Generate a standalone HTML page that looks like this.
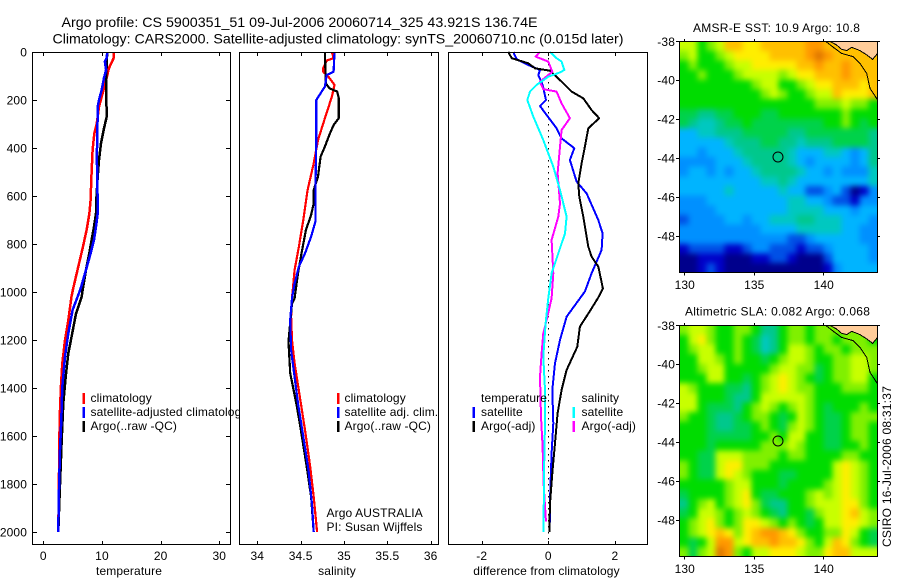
<!DOCTYPE html>
<html>
<head>
<meta charset="utf-8">
<title>Argo profile</title>
<style>
html,body{margin:0;padding:0;background:#fff;}
svg{display:block;font-family:"Liberation Sans",sans-serif;}
text{fill:#000;font-size:12px;letter-spacing:0.12px;}
.t{font-size:14px;letter-spacing:0;}
</style>
</head>
<body>
<svg id="fig" width="900" height="580" viewBox="0 0 900 580" xmlns="http://www.w3.org/2000/svg">
<defs>
<filter id="map-blur" x="-15%" y="-15%" width="130%" height="130%" color-interpolation-filters="sRGB"><feGaussianBlur stdDeviation="3"/></filter>
<clipPath id="clip-map-sst"><rect x="679" y="41" width="198.5" height="231.5"/></clipPath>
<clipPath id="clip-map-sla"><rect x="679" y="325" width="198.5" height="231.5"/></clipPath>
</defs>
<rect x="0" y="0" width="900" height="580" fill="#fff"/>
<text class="t" x="61.5" y="27" textLength="476" lengthAdjust="spacingAndGlyphs">Argo profile: CS 5900351_51 09-Jul-2006 20060714_325 43.921S 136.74E</text>
<text class="t" x="52.5" y="43.5" textLength="571" lengthAdjust="spacingAndGlyphs">Climatology: CARS2000. Satellite-adjusted climatology: synTS_20060710.nc (0.015d later)</text>

<g id="panel-t"></g>
<g>
<rect x="82.5" y="393" width="2.5" height="11" fill="#f00"/>
<text x="90.5" y="402">climatology</text>
<rect x="82.5" y="407" width="2.5" height="11" fill="#00f"/>
<text x="90.5" y="416">satellite-adjusted climatology</text>
<rect x="82.5" y="421" width="2.5" height="11" fill="#000"/>
<text x="90.5" y="430">Argo(..raw -QC)</text>
</g>

<g id="panel-s"></g>
<g>
<rect x="337" y="393" width="2.5" height="11" fill="#f00"/>
<text x="344.5" y="402">climatology</text>
<rect x="337" y="407" width="2.5" height="11" fill="#00f"/>
<text x="344.5" y="416">satellite adj. clim.</text>
<rect x="337" y="421" width="2.5" height="11" fill="#000"/>
<text x="344.5" y="430">Argo(..raw -QC)</text>
<text x="326.5" y="517">Argo AUSTRALIA</text>
<text x="326.5" y="531">PI: Susan Wijffels</text>
</g>

<g id="panel-d"></g>
<g>
<text x="481" y="402">temperature</text>
<rect x="472.5" y="407" width="2.5" height="11" fill="#00f"/>
<text x="481" y="416">satellite</text>
<rect x="472.5" y="421" width="2.5" height="11" fill="#000"/>
<text x="481" y="430">Argo(-adj)</text>
<text x="581.5" y="402">salinity</text>
<rect x="572.5" y="407" width="2.5" height="11" fill="#0ff"/>
<text x="581.5" y="416">satellite</text>
<rect x="572.5" y="421" width="2.5" height="11" fill="#f0f"/>
<text x="581.5" y="430">Argo(-adj)</text>
</g>

<text x="129" y="575" text-anchor="middle">temperature</text>
<text x="337" y="575" text-anchor="middle">salinity</text>
<text x="546.5" y="575" text-anchor="middle">difference from climatology</text>

<g id="map-sst"></g>
<g id="map-sla"></g>
<text x="693" y="32" textLength="167" lengthAdjust="spacing">AMSR-E SST: 10.9 Argo: 10.8</text>
<text x="685" y="315.5" textLength="185" lengthAdjust="spacing">Altimetric SLA: 0.082 Argo: 0.068</text>
<text transform="translate(891,547) rotate(-90)" textLength="161" lengthAdjust="spacing">CSIRO 16-Jul-2006 08:31:37</text>
</svg>

<script>
// ---- tick labels ----
const depthTicks = [0,200,400,600,800,1000,1200,1400,1600,1800,2000];
const tempTicks = [0,10,20,30];
const salTicks = [34,34.5,35,35.5,36];
const diffTicks = [-2,0,2];
const lonTicks = [130,135,140];
const latTicks = [-38,-40,-42,-44,-46,-48];

// ---- temperature panel ----
const tempClimDepth = [0,25,67,116,172,228,300,340,408,520,616,672,740,818,894,985,1019,1117,1200,1297,1394,1492,1617,1755,2000];
const tempClimVal = [12.04,12,11.2,10.7,10.1,9.5,9.1,8.7,8.4,8.2,8.07,7.85,7.4,6.7,5.96,5.1,4.8,4.26,3.7,3.24,3.0,2.85,2.73,2.67,2.55];
const tempArgoDepth = [0,116,270,318,380,450,520,616,672,728,783,839,908,992,1019,1090,1186,1256,1353,1464,1617,1728,1880,2000];
const tempArgoVal = [10.9,10.68,10.8,10.34,9.83,9.49,9.27,9.03,8.98,8.64,8.24,7.84,7.27,6.7,6.54,5.57,4.83,4.26,3.81,3.41,3.13,2.96,2.73,2.55];
const tempSatDepth = [0,25,40,75,108,158,200,228,367,436,505,672,728,783,839,908,985,1012,1075,1172,1270,1394,1533,1658,1769,1880,2000];
const tempSatVal = [10.9,10.8,10.5,10.7,10.34,9.95,9.49,9.27,9.2,9.1,9.2,9.27,8.98,8.64,8.07,7.27,6.37,5.96,5.0,4.26,3.7,3.24,3.07,2.85,2.73,2.62,2.56];

// ---- salinity panel ----
const salClimDepth = [0,26,36,68,82,103,137,186,276,367,464,575,700,811,908,1026,1103,1200,1297,1436,1575,1728,1853,2000];
const salClimVal = [34.86,34.88,34.80,34.76,34.76,34.82,34.89,34.86,34.78,34.70,34.65,34.58,34.53,34.48,34.43,34.40,34.39,34.40,34.43,34.49,34.55,34.61,34.65,34.69];
const salArgoDepth = [0,130,151,165,193,276,304,346,394,436,519,575,631,679,742,839,922,1026,1047,1207,1338,1464,1548,1728,1853,2000];
const salArgoVal = [34.78,34.79,34.83,34.92,34.94,34.94,34.88,34.83,34.78,34.73,34.70,34.65,34.65,34.62,34.56,34.51,34.47,34.43,34.40,34.36,34.38,34.45,34.49,34.57,34.62,34.65];
const salSatDepth = [0,82,96,144,200,367,575,707,769,839,894,964,1026,1117,1242,1325,1464,1603,1742,1880,2000];
const salSatVal = [34.89,34.88,34.80,34.78,34.68,34.68,34.67,34.67,34.62,34.55,34.48,34.43,34.40,34.38,34.39,34.42,34.47,34.53,34.59,34.63,34.65];

// ---- difference panel ----
const diffTempSatDepth = [0,30,54,75,96,137,200,225,272,318,360,401,450,540,589,700,756,825,922,998,1103,1200,1297,1408,1548,1672,1825,2000];
const diffTempSatVal = [-1.05,-0.95,-0.6,-0.25,-0.3,-0.17,-0.07,-0.25,0,0.25,0.4,0.78,0.65,0.85,1.15,1.5,1.63,1.6,1.3,1.1,0.55,0.35,0.2,0.12,0.15,0.1,0.06,0.04];
const diffTempArgoDepth = [0,26,47,68,78,110,165,193,242,276,318,394,464,547,603,686,811,853,894,985,1026,1090,1144,1228,1325,1408,1505,1630,1755,1880,2000];
const diffTempArgoVal = [-1.2,-1.1,-0.6,-0.4,0.05,0.3,0.7,1.05,1.3,1.53,1.2,1.1,1.0,0.9,0.93,1.05,1.2,1.3,1.5,1.64,1.49,1.2,0.95,0.87,0.55,0.4,0.28,0.2,0.12,0.05,0.03];
const diffSalSatDepth = [0,26,40,75,85,103,137,165,200,269,367,478,575,686,756,839,922,1026,1131,1270,1408,1548,1686,1825,2000];
const diffSalSatVal = [0.05,0.25,0.4,0.48,0.35,0,-0.35,-0.55,-0.63,-0.45,-0.15,0.15,0.35,0.55,0.5,0.3,0.1,0,-0.08,-0.15,-0.1,-0.1,-0.12,-0.13,-0.15];
const diffSalArgoDepth = [0,19,40,82,124,155,165,214,276,325,394,505,631,686,783,922,1026,1117,1172,1256,1353,1519,1644,1797,1957];
const diffSalArgoVal = [-0.25,-0.38,0,0.12,-0.25,-0.15,0.25,0.4,0.65,0.4,0.35,0.28,0.35,0.3,0.1,0.15,0.1,-0.05,-0.15,-0.2,-0.25,-0.22,-0.17,-0.14,-0.07];

// ---- maps: colour level per cell, north to south ----
const sstCells = [
[10,10,8,9,10,12,12,11,11,12,12,12,12,12,13,13,12,12,12,12,12,12],
[9,10,8,8,9,10,11,11,11,11,12,12,12,12,13,14,13,12,12,12,12,12],
[8,9,8,8,8,9,10,10,11,11,11,11,11,12,12,13,12,12,13,12,12,12],
[8,8,9,8,8,8,9,10,10,10,10,9,10,11,11,12,12,12,13,12,12,12],
[8,8,8,8,8,8,8,8,9,10,10,8,8,9,10,11,11,12,12,12,11,12],
[8,8,8,8,8,8,8,8,8,9,10,9,8,8,9,10,10,12,11,11,11,12],
[8,8,8,8,8,8,8,8,8,8,8,8,8,8,8,9,9,9,10,9,9,8],
[7,7,6,6,7,7,8,8,8,7,7,8,8,8,8,8,8,8,9,8,8,8],
[7,6,5,5,6,7,7,8,7,7,7,7,7,7,7,7,8,8,9,8,7,8],
[4,4,5,5,6,6,6,7,7,7,7,7,6,6,7,7,7,7,7,7,7,6],
[4,4,4,4,4,5,6,6,6,7,7,6,6,5,6,6,6,7,7,7,7,6],
[4,4,3,4,4,4,5,6,6,6,6,6,5,4,4,4,5,5,4,3,4,6],
[3,3,3,3,4,4,4,5,6,6,6,6,5,4,3,4,4,4,4,3,4,6],
[3,4,4,3,4,3,4,4,5,6,6,6,6,5,4,4,3,4,3,3,3,5],
[4,4,4,4,4,4,4,4,4,5,5,6,5,4,4,4,4,4,4,4,4,5],
[4,4,4,4,4,5,4,4,4,4,4,5,4,4,2,2,3,4,2,0,1,3],
[3,3,3,4,4,4,4,4,4,4,4,4,5,5,4,4,3,2,2,1,3,3],
[3,3,3,3,4,4,4,4,4,4,4,4,5,5,5,5,4,4,4,3,4,4],
[2,3,3,3,3,4,4,3,4,4,5,5,5,6,6,5,5,5,4,4,4,3],
[3,3,3,3,3,3,3,3,3,4,4,4,4,5,5,5,5,5,4,4,3,3],
[3,3,3,3,3,3,3,3,3,3,3,3,2,2,3,4,4,4,4,4,3,3],
[1,2,2,2,2,1,1,2,3,3,2,2,2,1,2,2,3,4,4,4,4,3],
[0,0,1,1,1,0,0,0,1,1,2,2,1,0,0,0,2,4,4,4,4,3],
[0,0,1,2,1,0,0,0,0,0,0,0,0,0,0,0,1,3,4,4,4,4]
];
const slaCells = [
[9,10,10,9,8,8,9,9,8,6,6,8,9,9,8,9,9,9,9,9,9,9],
[8,10,11,9,8,8,9,8,7,5,6,8,9,9,8,9,9,8,9,9,9,8],
[8,9,10,10,8,8,9,8,7,5,6,8,10,10,9,8,9,9,8,9,9,9],
[8,8,10,10,9,8,9,8,8,7,8,9,10,10,9,8,8,9,9,10,10,9],
[8,8,9,10,10,8,8,8,8,8,9,10,10,9,9,7,8,9,9,10,10,9],
[8,8,8,10,10,8,8,7,8,9,10,11,10,9,8,7,8,9,9,10,10,8],
[10,9,8,8,8,7,7,6,8,9,10,11,10,9,9,8,8,8,9,9,9,8],
[10,10,8,8,8,7,6,6,8,10,10,10,10,10,9,8,8,8,8,8,8,8],
[10,10,8,7,7,7,6,8,9,10,9,8,9,10,9,8,7,8,8,8,9,8],
[9,8,8,7,6,6,7,8,9,9,8,7,8,10,9,8,7,7,8,9,9,9],
[8,8,8,7,6,6,7,7,8,9,8,7,9,10,9,8,7,7,8,9,9,8],
[8,8,8,7,7,7,7,7,8,8,9,8,10,10,8,8,7,7,8,9,9,8],
[8,8,8,7,8,8,8,8,8,9,9,9,10,9,8,8,7,7,8,8,9,8],
[8,8,7,7,10,10,10,9,9,9,9,8,9,9,8,8,8,8,9,9,8,8],
[9,8,7,7,10,11,11,9,9,9,8,8,8,8,8,8,8,10,11,10,9,8],
[9,8,7,7,10,11,10,9,8,8,8,7,7,8,8,8,8,10,11,10,9,8],
[8,8,8,8,8,9,10,10,8,8,8,7,8,8,8,8,9,10,11,10,9,8],
[7,8,8,8,8,9,10,11,8,7,7,8,8,8,9,10,9,10,11,10,9,8],
[6,8,9,10,8,9,10,11,9,7,6,6,8,8,9,10,10,10,11,11,9,8],
[7,8,10,10,9,8,9,10,9,8,7,6,8,8,7,9,10,10,11,12,10,9],
[8,9,10,11,9,8,9,11,11,10,9,8,9,8,7,8,10,10,11,11,10,9],
[8,9,10,11,12,11,9,11,12,13,13,12,11,9,8,8,9,9,11,10,8,7],
[8,7,8,10,13,13,10,11,12,12,13,12,12,11,9,8,10,12,11,9,8,7],
[9,7,9,10,14,13,9,8,10,10,11,11,11,10,9,9,11,12,12,10,10,10]
];
const levelColors = ["#00008c","#0000c8","#0050e6","#0090ff","#00b4ff","#00c8c0","#00c88c","#00d24a","#00dc00","#80f000","#c8ff00","#ffee00","#ffc000","#ff9800","#e07800"];
const coastLon = [140.17,140.72,141.32,142.16,142.64,143.12,143.36,143.88];
const coastLat = [-38,-38.31,-38.62,-38.79,-39.13,-39.65,-40.42,-40.98];
const landLon = [140.48,140.96,141.32,141.68,142.04,142.64,143.12,143.55,143.88];
const landLat = [-38,-38.19,-38.41,-38.48,-38.31,-38.48,-38.70,-38.93,-38.65];
const profileLon = 136.74;
const profileLat = -43.921;

const NS = "http://www.w3.org/2000/svg";
function mk(parent, tag, attrs){
  const e = document.createElementNS(NS, tag);
  for (const k in attrs) e.setAttribute(k, attrs[k]);
  parent.appendChild(e);
  return e;
}
function linear(d0, r0, d1, r1){ return v => r0 + (v - d0) * (r1 - r0) / (d1 - d0); }

const TOP = 52, BOTTOM = 545;
const depthY = linear(0, 52, 2000, 532);

function drawPanel(id, left, right, xScale, xTicks, showDepth){
  const g = document.getElementById(id);
  const bg = mk(g, "rect", {x:left, y:TOP, width:right-left, height:BOTTOM-TOP, fill:"#fff"});
  
  
  xTicks.forEach(v => {
    const x = Math.round(xScale(v)) + 0.5;
    const t1 = mk(g, "line", {x1:x, x2:x, y1:TOP, y2:TOP+4, stroke:"#000"});
    
    
    const t2 = mk(g, "line", {x1:x, x2:x, y1:BOTTOM-4, y2:BOTTOM, stroke:"#000"});
    
    
    const l = mk(g, "text", {x:xScale(v), y:560, "text-anchor":"middle"});
    
    
    l.textContent = String(v);
  });
  if (showDepth){
    depthTicks.forEach(v => {
      const y = Math.round(depthY(v)) + 0.5;
      const t1 = mk(g, "line", {x1:left, x2:left+5, y1:y, y2:y, stroke:"#000"});
      
      
      const t2 = mk(g, "line", {x1:right-5, x2:right, y1:y, y2:y, stroke:"#000"});
      
      
      const l = mk(g, "text", {x:27, y:depthY(v)+4.5, "text-anchor":"end"});
      
      
      l.textContent = String(v);
    });
  }
  return g;
}
function frame(g, left, right){
  const f = mk(g, "rect", {x:left+0.5, y:TOP+0.5, width:right-left-1, height:BOTTOM-TOP-1, fill:"none", stroke:"#000", "stroke-width":1});
  
  
}
function drawSeries(g, name, depths, vals, xScale, color, width){
  const pts = depths.map((d,i) => xScale(vals[i]).toFixed(1) + "," + depthY(d).toFixed(1)).join(" ");
  const p = mk(g, "polyline", {points:pts, fill:"none", stroke:color, "stroke-width":width, "stroke-linejoin":"round", "shape-rendering":"crispEdges"});
  
  
}

// temperature
const tX = linear(0, 43.3, 30, 219.3);
const gT = drawPanel("panel-t", 32, 231, tX, tempTicks, true);
drawSeries(gT, "temperature-climatology-line", tempClimDepth, tempClimVal, tX, "#f00", 2.5);
drawSeries(gT, "temperature-argo-line", tempArgoDepth, tempArgoVal, tX, "#000", 2.5);
drawSeries(gT, "temperature-satellite-line", tempSatDepth, tempSatVal, tX, "#00f", 2.5);
frame(gT, 32, 231);

// salinity
const sX = linear(34, 257.3, 36, 430.7);
const gS = drawPanel("panel-s", 239, 439, sX, salTicks, false);
drawSeries(gS, "salinity-climatology-line", salClimDepth, salClimVal, sX, "#f00", 2.2);
drawSeries(gS, "salinity-argo-line", salArgoDepth, salArgoVal, sX, "#000", 2.2);
drawSeries(gS, "salinity-satellite-line", salSatDepth, salSatVal, sX, "#00f", 2.2);
frame(gS, 239, 439);

// difference
const dX = linear(-2, 481.7, 2, 614.9);
const gD = drawPanel("panel-d", 448, 648, dX, diffTicks, false);
const zero = mk(gD, "line", {x1:Math.round(dX(0))+0.5, x2:Math.round(dX(0))+0.5, y1:TOP, y2:BOTTOM, stroke:"#000", "stroke-width":1, "stroke-dasharray":"1.5 4.5", "shape-rendering":"crispEdges"});


drawSeries(gD, "diff-temperature-satellite-line", diffTempSatDepth, diffTempSatVal, dX, "#00f", 2);
drawSeries(gD, "diff-temperature-argo-line", diffTempArgoDepth, diffTempArgoVal, dX, "#000", 2);
drawSeries(gD, "diff-salinity-argo-line", diffSalArgoDepth, diffSalArgoVal, dX, "#f0f", 2);
drawSeries(gD, "diff-salinity-satellite-line", diffSalSatDepth, diffSalSatVal, dX, "#0ff", 2);
frame(gD, 448, 648);

// maps
function drawMap(id, cells, top, labelY){
  const g = document.getElementById(id);
  const left = 679, right = 877, bottom = top + 231.5;
  const lonX = linear(130, 684.3, 140, 823.3);
  const latY = linear(-38, top + 0.3, -48, top + 194.8);
  const lon0 = 129.65, lon1 = 143.9, lat0 = -38, lat1 = -49.9;
  const nr = cells.length;
  const clip = mk(g, "g", {"clip-path":"url(#clip-" + id + ")"});
  
  
  const grid = mk(clip, "g", {filter:"url(#map-blur)"});
  
  
  const pad = 14;
  cells.forEach((row, r) => {
    const nc = row.length;
    row.forEach((v, c) => {
      let x0 = lonX(lon0 + (lon1 - lon0) * c / nc);
      let x1 = lonX(lon0 + (lon1 - lon0) * (c + 1) / nc);
      let y0 = latY(lat0 + (lat1 - lat0) * r / nr);
      let y1 = latY(lat0 + (lat1 - lat0) * (r + 1) / nr);
      if (c === 0) x0 -= pad;
      if (c === nc - 1) x1 += pad;
      if (r === 0) y0 -= pad;
      if (r === nr - 1) y1 += pad;
      const cell = mk(grid, "rect", {x:x0.toFixed(2), y:y0.toFixed(2), width:(x1-x0+0.3).toFixed(2), height:(y1-y0+0.3).toFixed(2), fill:levelColors[v], "shape-rendering":"crispEdges"});
      
      
    });
  });
  // land and coast
  const landPts = landLon.map((v,i) => lonX(v).toFixed(1) + "," + latY(landLat[i]).toFixed(1));
  landPts.push(right + "," + top);
  const land = mk(g, "polygon", {points:landPts.join(" "), fill:"#ffcc99"});
  
  
  const landLine = mk(g, "polyline", {points:landLon.map((v,i) => lonX(v).toFixed(1) + "," + latY(landLat[i]).toFixed(1)).join(" "), fill:"none", stroke:"#000", "stroke-width":1, "shape-rendering":"crispEdges"});
  
  
  const coast = mk(g, "polyline", {points:coastLon.map((v,i) => lonX(v).toFixed(1) + "," + latY(coastLat[i]).toFixed(1)).join(" "), fill:"none", stroke:"#000", "stroke-width":1, "shape-rendering":"crispEdges"});
  
  
  // profile marker
  const m = mk(g, "circle", {cx:lonX(profileLon), cy:latY(profileLat)+0.5, r:5, fill:"none", stroke:"#000", "stroke-width":1});
  
  
  // frame and ticks
  const f = mk(g, "rect", {x:left+0.5, y:top+0.5, width:right-left, height:bottom-top-0.5, fill:"none", stroke:"#000", "stroke-width":1});
  
  
  lonTicks.forEach(v => {
    const x = Math.round(lonX(v)) + 0.5;
    const t1 = mk(g, "line", {x1:x, x2:x, y1:top-2, y2:top, stroke:"#000"});
    
    
    const t2 = mk(g, "line", {x1:x, x2:x, y1:bottom, y2:bottom+3, stroke:"#000"});
    
    
    const l = mk(g, "text", {x:lonX(v)+0.5, y:labelY, "text-anchor":"middle"});
    
    
    l.textContent = String(v);
  });
  latTicks.forEach(v => {
    const y = Math.round(latY(v)) + 0.5;
    const t1 = mk(g, "line", {x1:left-3, x2:left, y1:y, y2:y, stroke:"#000"});
    
    
    const t2 = mk(g, "line", {x1:right+1, x2:right+3, y1:y, y2:y, stroke:"#000"});
    
    
    const l = mk(g, "text", {x:675, y:latY(v)+4.5, "text-anchor":"end"});
    
    
    l.textContent = "-" + Math.abs(v);
  });
}
drawMap("map-sst", sstCells, 41, 289);
drawMap("map-sla", slaCells, 325, 573);
</script>
</body>
</html>
